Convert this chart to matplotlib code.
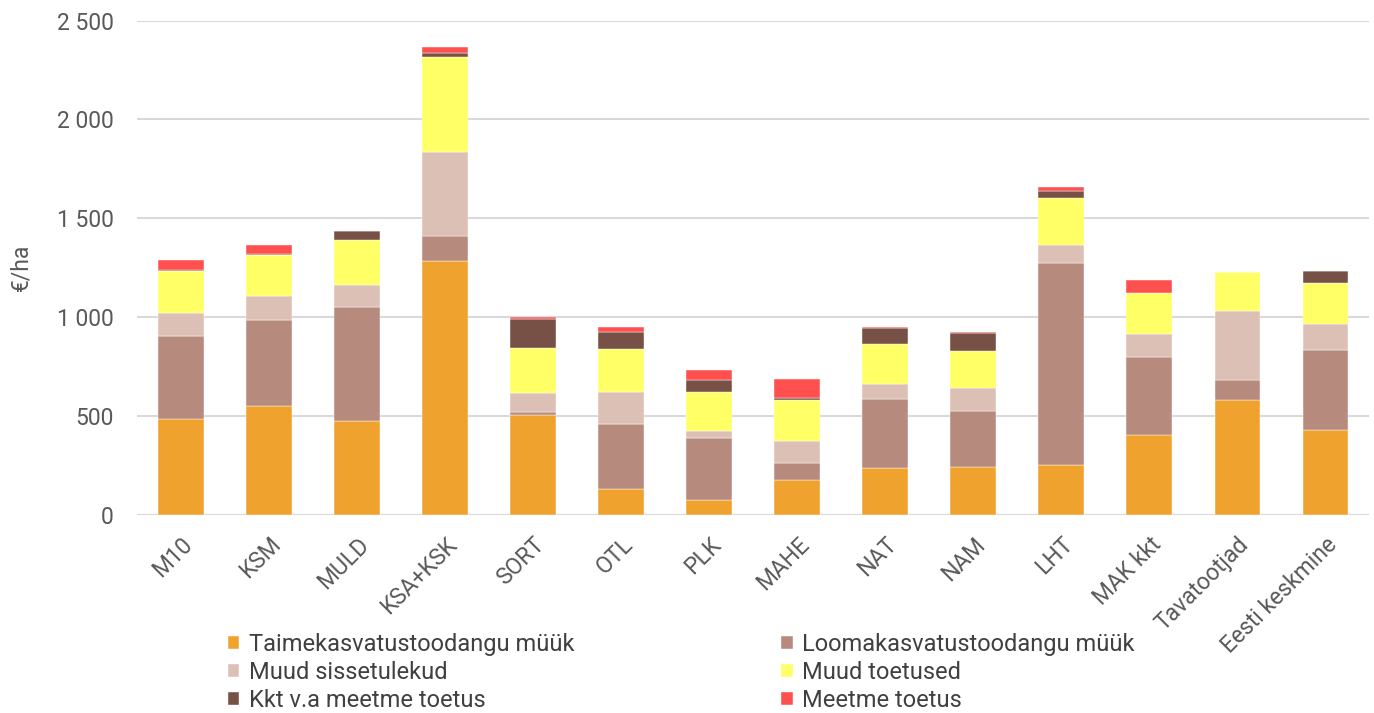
import numpy as np
import matplotlib
matplotlib.use("Agg")
import matplotlib.pyplot as plt
from matplotlib.ticker import FuncFormatter

plt.rcParams['font.family'] = ['Roboto', 'DejaVu Sans']

categories = ["M10", "KSM", "MULD", "KSA+KSK", "SORT", "OTL", "PLK", "MAHE",
              "NAT", "NAM", "LHT", "MAK kkt", "Tavatootjad", "Eesti keskmine"]

taime = [486, 548, 476, 1285, 504, 132, 76, 176, 236, 242, 250, 405, 579, 429]
looma = [418, 437, 577, 127, 15, 327, 315, 86, 350, 283, 1025, 394, 103, 407]
muud_siss = [118, 122, 111, 423, 97, 162, 34, 110, 76, 117, 91, 115, 350, 130]
muud_toet = [209, 205, 224, 482, 227, 218, 198, 210, 204, 189, 235, 207, 198, 208]
kkt = [10, 5, 46, 20, 147, 88, 61, 10, 78, 89, 39, 0, 0, 59]
meetme = [49, 47, 3, 29, 12, 22, 47, 93, 5, 6, 19, 66, 0, 0]

series = [
    ("Taimekasvatustoodangu müük", taime, "#EFA22E"),
    ("Loomakasvatustoodangu müük", looma, "#B68B7E"),
    ("Muud sissetulekud", muud_siss, "#DDC0B5"),
    ("Muud toetused", muud_toet, "#FFFF66"),
    ("Kkt v.a meetme toetus", kkt, "#775146"),
    ("Meetme toetus", meetme, "#FF5050"),
]

fig = plt.figure(figsize=(13.74, 7.13), dpi=100)
ax = fig.add_axes([0.0997, 0.278, 0.897, 0.693])

x = np.arange(len(categories))
bottom = np.zeros(len(categories))
handles = {}
for name, vals, col in series:
    b = ax.bar(x, vals, 0.52, bottom=bottom, color=col, label=name,
               edgecolor="white", linewidth=0.3, zorder=3)
    handles[name] = b
    bottom += np.array(vals)

ax.set_xlim(-0.5, len(categories) - 0.5)
ax.set_ylim(0, 2500)
ax.set_yticks(np.arange(0, 2501, 500))
ax.yaxis.set_major_formatter(FuncFormatter(lambda v, p: f"{int(v):,}".replace(",", " ")))
ax.grid(axis="y", color="#D9D9D9", linewidth=1.5, zorder=0)
for s in ax.spines.values():
    s.set_visible(False)
ax.tick_params(axis="both", length=0, labelsize=16.5, colors="#595959")
ax.tick_params(axis="y", pad=17)
ax.tick_params(axis="x", pad=13)
ax.set_xticks(x)
ax.set_xticklabels(categories, rotation=45, ha="right", rotation_mode="anchor")
ax.set_ylabel("€/ha", fontsize=16.5, color="#595959", labelpad=17)

order = ["Taimekasvatustoodangu müük", "Muud sissetulekud", "Kkt v.a meetme toetus",
         "Loomakasvatustoodangu müük", "Muud toetused", "Meetme toetus"]
leg = fig.legend([handles[n] for n in order], order, ncol=2, loc="upper left",
                 bbox_to_anchor=(0.157, 0.129), frameon=False, fontsize=17,
                 handlelength=0.5, handleheight=0.5, handletextpad=0.4,
                 columnspacing=8.75, labelspacing=0.21, borderpad=0)
for t in leg.get_texts():
    t.set_color("#404040")
leg.set_zorder(0)

fig.savefig("out.png", dpi=100)
